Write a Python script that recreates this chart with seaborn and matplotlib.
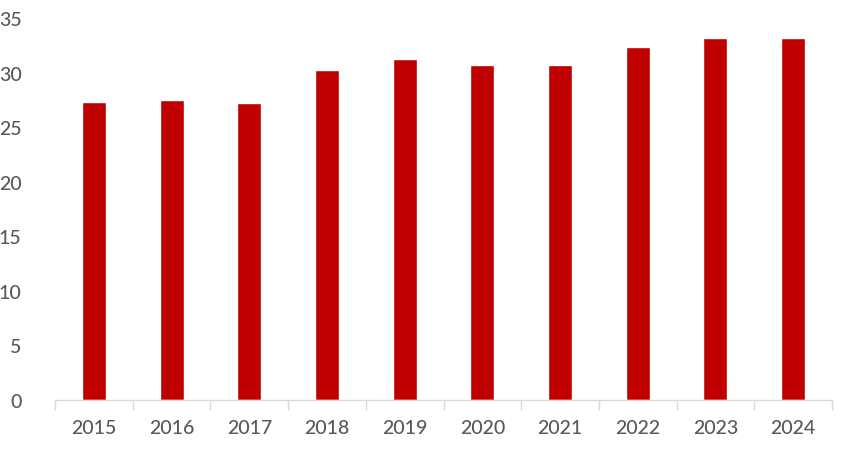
import numpy as np
import pandas as pd
import seaborn as sns
import matplotlib
import matplotlib.pyplot as plt
from matplotlib.ticker import FixedLocator, MultipleLocator

matplotlib.use('Agg')

years = ['2015', '2016', '2017', '2018', '2019', '2020', '2021', '2022', '2023', '2024']
values = [27.3, 27.5, 27.2, 30.2, 31.2, 30.7, 30.7, 32.35, 33.2, 33.2]

df = pd.DataFrame({'year': years, 'value': values})

sns.set_style('white')
plt.rcParams['font.family'] = ['Lato', 'DejaVu Sans']

fig = plt.figure(figsize=(8.43, 4.52), dpi=100)
ax = fig.add_axes([55 / 843, 51 / 452, 777 / 843, 382 / 452])

sns.barplot(data=df, x='year', y='value', color='#c00000', saturation=1,
            width=0.31, ax=ax)

ax.set_xlim(-0.5, len(years) - 0.5)
ax.set_ylim(0, 35)
ax.yaxis.set_major_locator(MultipleLocator(5))
ax.set_xlabel('')
ax.set_ylabel('')

for s in ['top', 'right', 'left']:
    ax.spines[s].set_visible(False)
ax.spines['bottom'].set_color('#d9d9d9')
ax.spines['bottom'].set_linewidth(1)

# category boundary ticks, Excel style
ax.xaxis.set_minor_locator(FixedLocator(np.arange(-0.5, len(years), 1.0)))
ax.tick_params(axis='x', which='minor', length=7, width=1, color='#d9d9d9', direction='out', bottom=True)
ax.tick_params(axis='x', which='major', length=0, pad=14, labelsize=14, labelcolor='#595959')
ax.tick_params(axis='y', length=0, pad=24, labelsize=14, labelcolor='#595959')
for lab in ax.get_xticklabels() + ax.get_yticklabels():
    lab.set_fontweight('medium')
for lab in ax.get_yticklabels():
    lab.set_horizontalalignment('right')

plt.savefig('out.png', dpi=100)
plt.close()
